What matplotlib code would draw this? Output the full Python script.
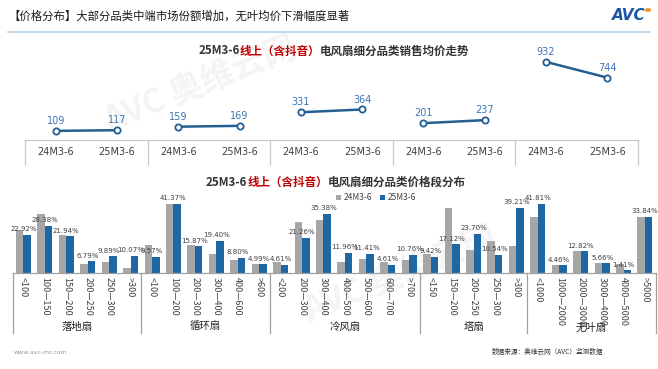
import matplotlib
matplotlib.use('Agg')
import matplotlib.pyplot as plt
import numpy as np

plt.rcParams['font.family'] = ['Noto Sans CJK SC', 'DejaVu Sans']

W, H = 658, 369

# ---- data ----
periods = ['24M3-6', '25M3-6']
avg_24 = [109, 159, 331, 201, 932]
avg_25 = [117, 169, 364, 237, 744]

fans = ['落地扇', '循环扇', '冷风扇', '塔扇', '无叶扇']
bands = [
    ['<100', '100-150', '150-200', '200-250', '250-300', '>300'],
    ['<100', '100-200', '200-300', '300-400', '400-600', '>600'],
    ['<200', '200-300', '300-400', '400-500', '500-600', '600-700', '>700'],
    ['<150', '150-200', '200-250', '250-300', '>300'],
    ['<1000', '1000-2000', '2000-3000', '3000-4000', '4000-5000', '>5000'],
]
share_24 = [
    [25.8, 35.3, 22.6, 5.4, 6.7, 3.0],
    [16.5, 41.3, 16.9, 11.3, 7.7, 5.4],
    [6.3, 30.6, 32.1, 6.7, 8.5, 6.7, 7.7],
    [11.3, 38.9, 13.9, 19.0, 16.1],
    [33.9, 4.6, 12.9, 5.8, 5.2, 33.5],
]
share_25 = [
    [22.92, 28.38, 21.94, 6.79, 9.89, 10.07],
    [9.57, 41.37, 15.87, 19.40, 8.80, 4.99],
    [4.61, 21.26, 35.38, 11.96, 11.41, 4.61, 10.76],
    [9.42, 17.12, 23.70, 10.54, 39.21],
    [41.81, 4.46, 12.82, 5.66, 1.41, 33.84],
]

GREY = '#A6A6A6'
BLUE = '#1F67A3'
LINE = '#235F93'
LBL = '#3D76B6'
TXT = '#404040'


def box(l, t, r, b):
    return [l / W, 1 - b / H, (r - l) / W, (b - t) / H]


fig = plt.figure(figsize=(W / 100, H / 100), dpi=100)
fig.patch.set_facecolor('white')


def multi_text(xc, y, parts, size, weight='bold'):
    # parts drawn side by side, centred on xc (pixel coords)
    r = fig.canvas.get_renderer()
    objs = []
    for s, c in parts:
        objs.append(fig.text(0, 1 - y / H, s, color=c, fontsize=size,
                             fontweight=weight, va='center', ha='left'))
    widths = [o.get_window_extent(r).width for o in objs]
    x = xc - sum(widths) / 2
    for o, w in zip(objs, widths):
        o.set_x(x / W)
        x += w


# header
fig.text(8 / W, 1 - 16 / H, '【价格分布】大部分品类中端市场份额增加，无叶均价下滑幅度显著',
         fontsize=8.2, color='#1A1A1A', va='center', ha='left')
fig.add_artist(plt.Line2D([8 / W, 650 / W], [1 - 32 / H, 1 - 32 / H],
                          color='#B4D3E6', lw=1.2))
fig.text(646 / W, 1 - 15 / H, 'AVC', fontsize=11, fontweight='bold', style='italic',
         color='#1B55A6', ha='right', va='center', family='DejaVu Sans')
fig.add_artist(plt.Circle((648 / W, 1 - 10 / H), 0.0035, color='#F29A1F',
                          transform=fig.transFigure))

# faint watermarks (behind everything)
for (wx, wy) in [(200, 85), (400, 275)]:
    fig.text(wx / W, 1 - wy / H, 'AVC 奥维云网', fontsize=24, fontweight='bold',
             color='#F4F4F4', rotation=22, ha='center', va='center', zorder=-5)

# ---- top: average price lines ----
multi_text(334, 51, [('25M3-6', '#333333'), ('线上（含抖音）', '#C00000'),
                     ('电风扇细分品类销售均价走势', '#333333')], 8.3)

ax1 = fig.add_axes(box(25, 56.2, 638, 140))
ax1.set_xlim(-0.5, 9.5)
ax1.set_ylim(0, 1000)
for i in range(len(avg_24)):
    xs = [2 * i, 2 * i + 1]
    ys = [avg_24[i], avg_25[i]]
    ax1.plot(xs, ys, color=LINE, lw=1.8, marker='o', ms=4.5,
             mfc='white', mec=LINE, mew=1.3, zorder=3)
    for x, v in zip(xs, ys):
        ax1.annotate(str(v), (x, v), xytext=(0, 3.5), textcoords='offset points',
                     ha='center', va='bottom', fontsize=7, color=LBL,
                     family='DejaVu Sans')
for s in ax1.spines.values():
    s.set_visible(False)
ax1.set_xticks([])
ax1.set_yticks([])
ax1.patch.set_alpha(0)
tr1 = ax1.get_xaxis_transform()
ax1.plot([-0.5, 9.5], [0, 0], transform=tr1, color='#C8C8C8', lw=0.9, clip_on=False)
for xb in [-0.5, 1.5, 3.5, 5.5, 7.5, 9.5]:
    ax1.plot([xb, xb], [0, -0.3], transform=tr1, color='#C8C8C8', lw=0.9, clip_on=False)
for i in range(10):
    ax1.text(i, -0.143, periods[i % 2], transform=tr1, ha='center', va='center',
             fontsize=7, color=TXT, family='DejaVu Sans')

# ---- bottom: price band shares ----
multi_text(336, 182, [('25M3-6', '#333333'), ('线上（含抖音）', '#C00000'),
                      ('电风扇细分品类价格段分布', '#333333')], 8.3)

ax2 = fig.add_axes(box(12.7, 190, 655.7, 272.7))
labels = [b for grp in bands for b in grp]
v24 = [v for grp in share_24 for v in grp]
v25 = [v for grp in share_25 for v in grp]
n = len(labels)
x = np.arange(n)
bw = 0.35
ax2.bar(x - bw / 2, v24, bw, color=GREY, label=periods[0])
ax2.bar(x + bw / 2, v25, bw, color=BLUE, label=periods[1])
for xi, v in zip(x, v25):
    ax2.annotate(f'{v:.2f}%', (xi, v), xytext=(0, 2), textcoords='offset points',
                 ha='center', va='bottom', fontsize=5, color=TXT,
                 family='DejaVu Sans')
ax2.set_xlim(-0.5, n - 0.5)
ax2.set_ylim(0, 50)
for s in ['top', 'right', 'left']:
    ax2.spines[s].set_visible(False)
ax2.spines['bottom'].set_color('#A0A0A0')
ax2.spines['bottom'].set_linewidth(0.9)
ax2.set_xticks([])
ax2.set_yticks([])
ax2.patch.set_alpha(0)
tr2 = ax2.get_xaxis_transform()
for xi, lab in zip(x, labels):
    ax2.text(xi, -0.05, lab.replace('-', '—'), transform=tr2, rotation=-90,
             ha='center', va='top', fontsize=6.5, color=TXT)
edges = np.cumsum([0] + [len(g) for g in bands]) - 0.5
for xb in edges:
    ax2.plot([xb, xb], [0, -0.73], transform=tr2, color='#A0A0A0', lw=0.9,
             clip_on=False)
for k, name in enumerate(fans):
    ax2.text((edges[k] + edges[k + 1]) / 2, -0.66, name, transform=tr2,
             ha='center', va='center', fontsize=7.5, color='#222222')
ax2.legend(loc='center', bbox_to_anchor=(376 / W, 1 - 198 / H),
           bbox_transform=fig.transFigure, ncol=2, frameon=False, fontsize=6,
           handlelength=0.6, handleheight=0.6, handletextpad=0.3,
           columnspacing=0.9, labelcolor=TXT)

# footer
fig.text(14 / W, 1 - 353 / H, 'www.avc-mr.com', fontsize=4.5, color='#999999',
         va='center', family='DejaVu Sans')
fig.text(548 / W, 1 - 352 / H, '数据来源：奥维云网（AVC）监测数据', fontsize=4.8,
         color='#333333', va='center', ha='center')

fig.savefig('out.png', dpi=100)
